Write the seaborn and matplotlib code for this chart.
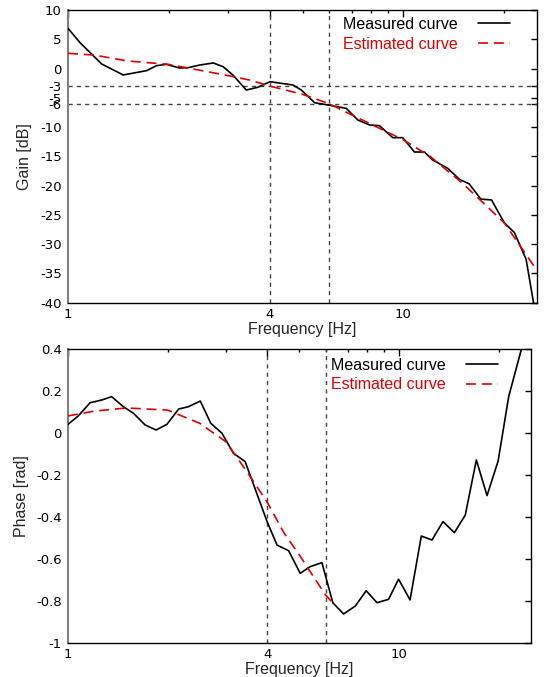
import numpy as np
import pandas as pd
import matplotlib
matplotlib.use("Agg")
import matplotlib.pyplot as plt
import seaborn as sns
from matplotlib.ticker import FixedLocator, FixedFormatter, NullFormatter

# ---------------- data ----------------
gain_freq = [1.0, 1.086, 1.26, 1.461, 1.714, 1.837, 1.966, 2.15, 2.28, 2.47,
             2.71, 2.9, 3.1, 3.4, 3.68, 4.0, 4.68, 4.96, 5.43, 5.96,
             6.75, 7.31, 7.92, 8.48, 9.29, 9.95, 10.78, 11.55, 12.2, 13.55,
             14.68, 15.7, 17.0, 18.3, 20.0, 21.4, 23.2, 24.5]
gain_db = [6.87, 4.42, 0.78, -1.1, -0.36, 0.49, 0.72, 0.09, 0.14, 0.6,
           0.95, 0.31, -1.1, -3.67, -3.2, -2.25, -2.81, -3.67, -5.83, -6.23,
           -6.8, -8.79, -9.64, -9.76, -11.81, -11.81, -14.26, -14.26, -15.6, -17.05,
           -18.93, -19.7, -22.3, -22.45, -26.4, -28.0, -32.6, -40.5]

est_gain_freq = [1, 1.2, 1.5, 2, 3, 3.5, 4, 5, 6, 7, 8, 10, 12, 15, 20, 25]
est_gain_db = [2.6, 2.3, 1.3, 0.7, -1.2, -2.0, -3.0, -4.4, -6.0, -7.9, -9.5,
               -12.2, -15.0, -19.6, -26.4, -34.5]

phase_freq = [1.0, 1.074, 1.166, 1.265, 1.355, 1.47, 1.576, 1.71, 1.846, 1.99,
              2.16, 2.31, 2.51, 2.70, 2.92, 3.16, 3.43, 3.99, 4.28, 4.64,
              5.03, 5.39, 5.85, 6.31, 6.80, 7.38, 7.96, 8.58, 9.30, 9.97,
              10.8, 11.68, 12.58, 13.58, 14.7, 15.86, 17.13, 18.45, 19.93, 21.45,
              23.4, 24.5]
phase_rad = [0.042, 0.082, 0.145, 0.158, 0.174, 0.126, 0.095, 0.039, 0.015, 0.042,
             0.115, 0.126, 0.153, 0.047, -0.001, -0.096, -0.136, -0.42, -0.534, -0.561,
             -0.669, -0.637, -0.618, -0.809, -0.863, -0.825, -0.752, -0.809, -0.793, -0.697,
             -0.796, -0.491, -0.51, -0.422, -0.475, -0.391, -0.128, -0.298, -0.133, 0.174,
             0.397, 0.6]

est_phase_freq = [1, 1.2, 1.5, 2, 2.5, 3, 3.5, 4, 4.5, 5, 5.5, 6, 6.3]
est_phase_rad = [0.082, 0.105, 0.12, 0.11, 0.047, -0.041, -0.192, -0.33, -0.478,
                 -0.581, -0.682, -0.772, -0.809]

x_major = [1, 4, 10]
x_major_labels = ["1", "4", "10"]
x_minor = [2, 3, 5, 6, 7, 8, 9, 20]
gain_ticks = [10, 5, 0, -3, -5, -6, -10, -15, -20, -25, -30, -35, -40]
phase_ticks = [0.4, 0.2, 0, -0.2, -0.4, -0.6, -0.8, -1]
phase_tick_labels = ["0.4", "0.2", "0", "-0.2", "-0.4", "-0.6", "-0.8", "-1"]
gain_refs = [-3, -6]
freq_refs = [4, 6]
legend_labels = ["Measured curve", "Estimated curve"]

# ---------------- style ----------------
sns.set_style("white")
plt.rcParams['font.family'] = ['Liberation Sans', 'DejaVu Sans']
plt.rcParams['font.size'] = 11

RED = '#dd0000'
W, H = 547, 677
fig = plt.figure(figsize=(W / 100, H / 100), dpi=100)
ax1 = fig.add_axes([68 / W, 1 - 302.7 / H, (537 - 68) / W, (302.7 - 10) / H])
ax2 = fig.add_axes([68 / W, 1 - 642.7 / H, (530.7 - 68) / W, (642.7 - 349.3) / H])


def draw(ax, xm, ym, xe, ye):
    dm = pd.DataFrame({"f": xm, "v": ym})
    de = pd.DataFrame({"f": xe, "v": ye})
    sns.lineplot(data=dm, x="f", y="v", ax=ax, color="black", lw=1.2,
                 estimator=None, sort=False, zorder=4)
    sns.lineplot(data=de, x="f", y="v", ax=ax, color=RED, lw=1.2,
                 estimator=None, sort=False, zorder=5)
    lines = ax.get_lines()
    lines[-1].set_dashes((6, 3.5))
    return lines[-2], lines[-1]


def style(ax):
    ax.set_xscale("log")
    ax.set_xlim(1, 25)
    ax.xaxis.set_major_locator(FixedLocator(x_major))
    ax.xaxis.set_major_formatter(FixedFormatter(x_major_labels))
    ax.xaxis.set_minor_locator(FixedLocator(x_minor))
    ax.xaxis.set_minor_formatter(NullFormatter())
    ax.tick_params(which="both", direction="in", top=True, right=True,
                   colors="black", labelsize=9.5, width=1)
    ax.tick_params(axis="x", which="major", length=5, pad=3.5)
    ax.tick_params(axis="x", which="minor", length=2.5)
    ax.tick_params(axis="y", which="major", length=4, pad=4.5)
    for lab in ax.get_xticklabels() + ax.get_yticklabels():
        lab.set_family(['DejaVu Sans'])
    for s in ax.spines.values():
        s.set_color("black")
        s.set_linewidth(1.0)
    ax.spines["left"].set_color("#808080")
    ax.spines["left"].set_linewidth(1.5)
    ax.set_xlabel("Frequency [Hz]", fontsize=11.5, labelpad=1)


m1, e1 = draw(ax1, gain_freq, gain_db, est_gain_freq, est_gain_db)
ax1.set_ylim(-40, 10)
ax1.yaxis.set_major_locator(FixedLocator(gain_ticks))
ax1.yaxis.set_major_formatter(FixedFormatter([str(t) for t in gain_ticks]))
style(ax1)
ax1.set_ylabel("Gain [dB]", fontsize=11.5, labelpad=6)
for r in gain_refs:
    ax1.axhline(r, color="#444444", lw=1.0, dashes=(3, 3), zorder=2)
for r in freq_refs:
    ax1.axvline(r, color="#444444", lw=1.0, dashes=(3, 3), zorder=2)

m2, e2 = draw(ax2, phase_freq, phase_rad, est_phase_freq, est_phase_rad)
ax2.set_ylim(-1, 0.4)
ax2.yaxis.set_major_locator(FixedLocator(phase_ticks))
ax2.yaxis.set_major_formatter(FixedFormatter(phase_tick_labels))
style(ax2)
ax2.set_ylabel("Phase [rad]", fontsize=11.5, labelpad=5)
for r in freq_refs:
    ax2.axvline(r, color="#444444", lw=1.0, dashes=(3, 3), zorder=2)

for ax, (m, e), anchor in [(ax1, (m1, e1), ((510 - 68) / 469, 0.976)),
                           (ax2, (m2, e2), ((498 - 68) / 462.7, 0.972))]:
    leg = ax.legend([m, e], legend_labels, loc="upper right", bbox_to_anchor=anchor,
                    frameon=False, markerfirst=False, fontsize=11.5,
                    handlelength=2.0, handletextpad=1.3, labelspacing=0.3,
                    borderpad=0, borderaxespad=0, labelcolor=["black", RED])

fig.savefig("out.png", dpi=100)
